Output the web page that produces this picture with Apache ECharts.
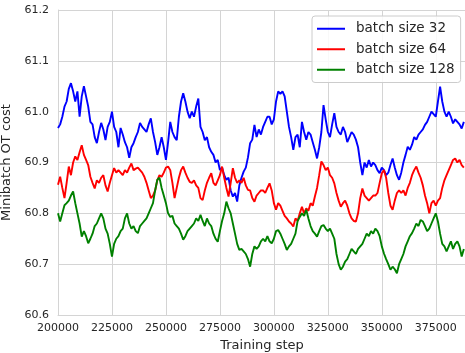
<!DOCTYPE html>
<html>
<head>
<meta charset="utf-8">
<script src="https://cdn.jsdelivr.net/npm/echarts@6/dist/echarts.min.js"></script>
<style>html,body{margin:0;padding:0;background:#fff;}#c{width:465px;height:353px;}</style>
</head>
<body>
<div id="c"></div>
<script>
// Training step sampling (every 1000 steps from 200000 to 388000)
const STEP_START = 200000;
const STEP_SIZE = 1000;
const xTicks = [200000, 225000, 250000, 275000, 300000, 325000, 350000, 375000];
const yTicks = [60.6, 60.7, 60.8, 60.9, 61.0, 61.1, 61.2];
const seriesNames = ['batch size 32', 'batch size 64', 'batch size 128'];

const batch32 = [
60.968, 60.975, 60.99, 61.01, 61.02, 61.045, 61.056, 61.04, 61.02, 61.04,
60.99, 61.03, 61.05, 61.03, 61.01, 60.98, 60.975, 60.95, 60.938, 60.96,
60.978, 60.965, 60.944, 60.97, 60.98, 61.0, 60.97, 60.96, 60.93, 60.968,
60.955, 60.94, 60.93, 60.909, 60.93, 60.938, 60.95, 60.96, 60.978, 60.97,
60.965, 60.96, 60.975, 60.987, 60.96, 60.94, 60.915, 60.93, 60.95, 60.93,
60.905, 60.94, 60.98, 60.96, 60.95, 60.944, 60.99, 61.02, 61.036, 61.02,
61.0, 60.987, 61.0, 60.99, 61.01, 61.026, 60.97, 60.96, 60.944, 60.95,
60.93, 60.921, 60.915, 60.9, 60.905, 60.885, 60.89, 60.875, 60.866, 60.87,
60.845, 60.833, 60.84, 60.823, 60.855, 60.87, 60.882, 60.89, 60.91, 60.938,
60.945, 60.974, 60.95, 60.965, 60.955, 60.97, 60.98, 60.99, 60.99, 60.975,
60.985, 61.02, 61.04, 61.035, 61.04, 61.03, 61.0, 60.97, 60.95, 60.925,
60.95, 60.955, 60.93, 60.98, 60.96, 60.945, 60.96, 60.955, 60.94, 60.925,
60.908, 60.93, 60.96, 61.013, 60.985, 60.96, 60.95, 60.975, 60.997, 60.97,
60.96, 60.955, 60.97, 60.96, 60.94, 60.95, 60.96, 60.955, 60.945, 60.93,
60.9, 60.875, 60.9, 60.89, 60.905, 60.892, 60.9, 60.895, 60.885, 60.879,
60.89, 60.885, 60.875, 60.88, 60.895, 60.908, 60.89, 60.875, 60.866, 60.88,
60.9, 60.915, 60.931, 60.925, 60.935, 60.95, 60.945, 60.955, 60.96, 60.965,
60.974, 60.98, 60.99, 61.0, 60.995, 60.99, 61.02, 61.049, 61.02, 61.0,
60.99, 61.0, 60.99, 60.977, 60.985, 60.98, 60.975, 60.967, 60.98
];

const batch64 = [
60.856, 60.872, 60.85, 60.83, 60.86, 60.892, 60.875, 60.9, 60.912, 60.905,
60.92, 60.934, 60.915, 60.905, 60.895, 60.872, 60.86, 60.849, 60.865, 60.86,
60.87, 60.875, 60.855, 60.843, 60.86, 60.875, 60.889, 60.88, 60.885, 60.88,
60.875, 60.885, 60.88, 60.89, 60.898, 60.885, 60.888, 60.89, 60.885, 60.88,
60.872, 60.86, 60.845, 60.83, 60.835, 60.845, 60.865, 60.875, 60.872, 60.88,
60.89, 60.892, 60.885, 60.86, 60.83, 60.85, 60.87, 60.885, 60.892, 60.88,
60.87, 60.862, 60.86, 60.865, 60.855, 60.85, 60.83, 60.826, 60.845, 60.86,
60.87, 60.879, 60.86, 60.855, 60.865, 60.875, 60.892, 60.87, 60.85, 60.833,
60.86, 60.889, 60.87, 60.86, 60.865, 60.86, 60.87, 60.855, 60.846, 60.845,
60.83, 60.823, 60.835, 60.84, 60.845, 60.845, 60.84, 60.85, 60.859, 60.845,
60.82, 60.807, 60.82, 60.815, 60.805, 60.795, 60.79, 60.784, 60.78, 60.774,
60.79, 60.785, 60.8, 60.813, 60.8, 60.81, 60.805, 60.82, 60.815, 60.833,
60.85, 60.875, 60.902, 60.895, 60.885, 60.89, 60.875, 60.87, 60.859, 60.84,
60.825, 60.813, 60.82, 60.825, 60.815, 60.8, 60.79, 60.785, 60.784, 60.8,
60.83, 60.849, 60.835, 60.83, 60.825, 60.83, 60.835, 60.835, 60.84, 60.86,
60.879, 60.885, 60.87, 60.84, 60.815, 60.807, 60.825, 60.84, 60.845, 60.84,
60.845, 60.835, 60.85, 60.86, 60.875, 60.885, 60.892, 60.88, 60.87, 60.855,
60.835, 60.82, 60.8, 60.82, 60.825, 60.815, 60.825, 60.83, 60.85, 60.865,
60.875, 60.885, 60.895, 60.905, 60.908, 60.9, 60.905, 60.895, 60.89
];

const batch128 = [
60.8, 60.784, 60.8, 60.816, 60.82, 60.825, 60.835, 60.843, 60.82, 60.8,
60.78, 60.754, 60.765, 60.755, 60.741, 60.75, 60.76, 60.775, 60.78, 60.79,
60.8, 60.79, 60.77, 60.76, 60.74, 60.715, 60.74, 60.75, 60.755, 60.765,
60.77, 60.79, 60.8, 60.78, 60.77, 60.775, 60.765, 60.761, 60.775, 60.78,
60.785, 60.79, 60.8, 60.81, 60.82, 60.845, 60.866, 60.87, 60.85, 60.835,
60.82, 60.8, 60.793, 60.795, 60.78, 60.775, 60.77, 60.76, 60.748, 60.755,
60.765, 60.77, 60.775, 60.78, 60.79, 60.785, 60.797, 60.785, 60.775, 60.79,
60.78, 60.775, 60.76, 60.75, 60.744, 60.765, 60.785, 60.8, 60.823, 60.81,
60.8, 60.78, 60.76, 60.74, 60.728, 60.73, 60.725, 60.72, 60.71, 60.695,
60.72, 60.735, 60.73, 60.735, 60.745, 60.75, 60.745, 60.755, 60.745, 60.741,
60.75, 60.765, 60.767, 60.76, 60.75, 60.74, 60.728, 60.735, 60.74, 60.75,
60.76, 60.785, 60.793, 60.8, 60.795, 60.807, 60.79, 60.775, 60.765, 60.76,
60.754, 60.765, 60.775, 60.777, 60.77, 60.765, 60.77, 60.76, 60.75, 60.72,
60.7, 60.689, 60.695, 60.705, 60.71, 60.72, 60.73, 60.725, 60.72, 60.73,
60.735, 60.74, 60.75, 60.76, 60.755, 60.765, 60.76, 60.77, 60.765, 60.755,
60.735, 60.721, 60.71, 60.7, 60.689, 60.695, 60.69, 60.682, 60.7, 60.71,
60.72, 60.735, 60.745, 60.755, 60.761, 60.77, 60.78, 60.775, 60.787, 60.784,
60.775, 60.765, 60.77, 60.78, 60.79, 60.8, 60.784, 60.76, 60.74, 60.735,
60.725, 60.735, 60.745, 60.73, 60.74, 60.745, 60.735, 60.715, 60.73
];

const colors = ['#0000ff', '#ff0000', '#008000'];
const allValues = [batch32, batch64, batch128];

function pairs(vals) {
  return vals.map((v, i) => [STEP_START + i * STEP_SIZE, v]);
}

const chart = echarts.init(document.getElementById('c'), null, {renderer: 'canvas'});
const textColor = '#262626';
const gridColor = '#d4d4d4';
const FONT = 'DejaVu Sans';

chart.setOption({
  animation: false,
  backgroundColor: '#ffffff',
  grid: {left: 58, top: 10, width: 408, height: 305, containLabel: false, outerBoundsMode: 'none'},
  xAxis: {
    type: 'value',
    min: xTicks[0],
    max: 389000,
    interval: 25000,
    name: 'Training step',
    nameLocation: 'middle',
    nameGap: 24,
    nameTextStyle: {color: textColor, fontSize: 13, fontFamily: FONT},
    axisLine: {show: true, lineStyle: {color: gridColor, width: 1}},
    axisTick: {show: false},
    axisLabel: {
      color: textColor, fontSize: 11, fontFamily: FONT, margin: 8,
      showMaxLabel: false,
      formatter: v => (xTicks.indexOf(v) >= 0 ? String(v) : '')
    },
    splitLine: {show: true, lineStyle: {color: gridColor, width: 1}}
  },
  yAxis: {
    type: 'value',
    min: yTicks[0],
    max: yTicks[yTicks.length - 1],
    interval: 0.1,
    name: 'Minibatch OT cost',
    nameLocation: 'middle',
    nameGap: 36,
    nameTextStyle: {color: textColor, fontSize: 13, fontFamily: FONT},
    axisLine: {show: true, lineStyle: {color: gridColor, width: 1}},
    axisTick: {show: false},
    axisLabel: {color: textColor, fontSize: 11, fontFamily: FONT, margin: 9,
      formatter: v => Number(v).toFixed(1)},
    splitLine: {show: true, lineStyle: {color: gridColor, width: 1}}
  },
  legend: {
    orient: 'vertical',
    left: 312,
    top: 16,
    padding: [5, 6, 5, 5],
    icon: 'rect',
    itemWidth: 28,
    itemHeight: 2,
    itemGap: 5,
    backgroundColor: 'rgba(255,255,255,0.85)',
    borderColor: '#cccccc',
    borderWidth: 1,
    borderRadius: 3,
    textStyle: {color: textColor, fontSize: 13.5, fontFamily: FONT, lineHeight: 15.5, padding: [0, 0, 0, 6]},
    data: seriesNames
  },
  series: seriesNames.map((name, i) => ({
    name: name,
    type: 'line',
    data: pairs(allValues[i]),
    symbol: 'none',
    showSymbol: false,
    lineStyle: {color: colors[i], width: 1.9},
    itemStyle: {color: colors[i]},
    z: 3 + i
  }))
});
</script>
</body>
</html>
